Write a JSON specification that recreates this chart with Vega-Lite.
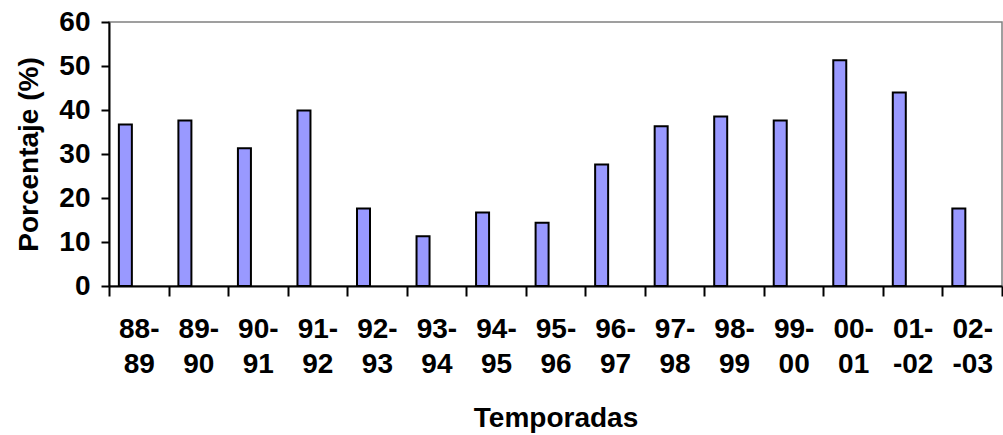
{
  "$schema": "https://vega.github.io/schema/vega-lite/v6.json",
  "autosize": "none",
  "padding": {"left": 109, "top": 22, "right": 1, "bottom": 149},
  "width": 893,
  "height": 264,
  "background": "white",
  "config": {
    "font": "Liberation Sans",
    "view": {"stroke": "#808080", "strokeWidth": 1.5},
    "axis": {
      "labelFont": "Liberation Sans",
      "labelFontWeight": "bold",
      "labelFontSize": 28,
      "labelColor": "black",
      "titleFont": "Liberation Sans",
      "titleFontWeight": "bold",
      "titleFontSize": 28,
      "titleColor": "black",
      "domainColor": "black",
      "domainWidth": 2,
      "tickColor": "black",
      "tickWidth": 2,
      "grid": false
    }
  },
  "data": {
    "values": [
      {"temporada": "88-89", "porcentaje": 36.7},
      {"temporada": "89-90", "porcentaje": 37.6},
      {"temporada": "90-91", "porcentaje": 31.3},
      {"temporada": "91-92", "porcentaje": 39.9},
      {"temporada": "92-93", "porcentaje": 17.6},
      {"temporada": "93-94", "porcentaje": 11.3},
      {"temporada": "94-95", "porcentaje": 16.7},
      {"temporada": "95-96", "porcentaje": 14.4},
      {"temporada": "96-97", "porcentaje": 27.6},
      {"temporada": "97-98", "porcentaje": 36.3},
      {"temporada": "98-99", "porcentaje": 38.5},
      {"temporada": "99-00", "porcentaje": 37.6},
      {"temporada": "00-01", "porcentaje": 51.3},
      {"temporada": "01--02", "porcentaje": 44.0},
      {"temporada": "02--03", "porcentaje": 17.6}
    ]
  },
  "mark": {
    "type": "bar",
    "width": 13,
    "xOffset": -13.4,
    "fill": "#9999FF",
    "stroke": "black",
    "strokeWidth": 2
  },
  "encoding": {
    "x": {
      "field": "temporada",
      "type": "nominal",
      "sort": null,
      "scale": {"paddingInner": 0, "paddingOuter": 0},
      "axis": {
        "title": "Temporadas",
        "labelAngle": 0,
        "tickBand": "extent",
        "tickSize": 10,
        "labelPadding": 19,
        "labelLineHeight": 35,
        "labelExpr": "[slice(datum.label, 0, 3), slice(datum.label, 3)]",
        "titlePadding": 26
      }
    },
    "y": {
      "field": "porcentaje",
      "type": "quantitative",
      "scale": {"domain": [0, 60], "nice": false},
      "axis": {
        "title": "Porcentaje (%)",
        "values": [0, 10, 20, 30, 40, 50, 60],
        "tickSize": 8,
        "labelPadding": 11,
        "titlePadding": 15
      }
    }
  }
}
